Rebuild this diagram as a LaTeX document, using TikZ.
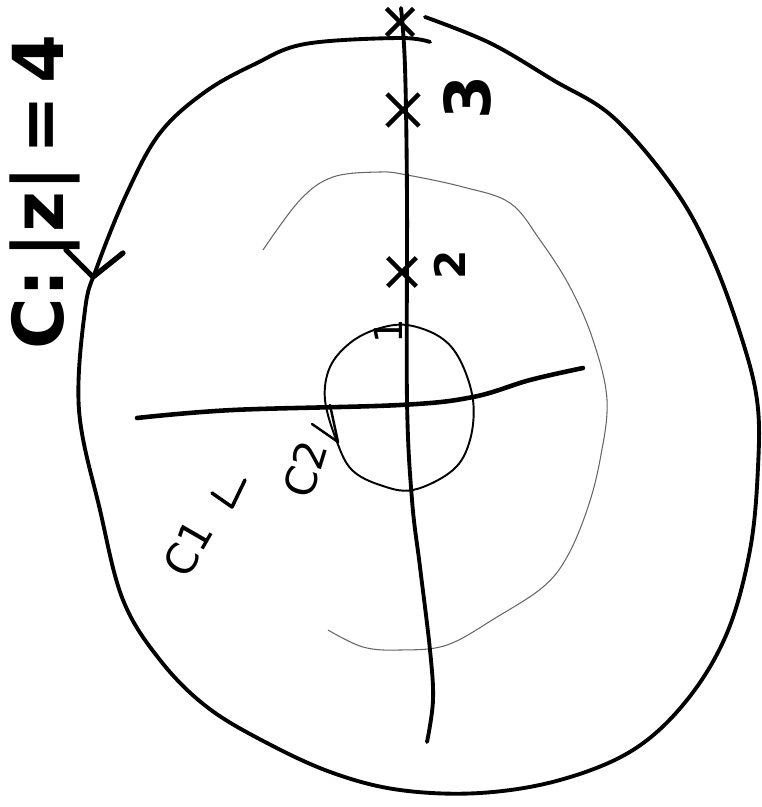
\documentclass[tikz,border=0pt]{standalone}
\usepackage{fontspec}
\setmainfont{DejaVu Sans}
\usetikzlibrary{shapes.misc}

\begin{document}
\begin{tikzpicture}[
    x=0.02cm, y=-0.02cm,
    bigcurve/.style={line width=2.2pt, line cap=round, line join=round},
    midcurve/.style={line width=0.6pt, draw=black!60},
    smallcurve/.style={line width=1.1pt},
    axisline/.style={line width=2.2pt, line cap=round},
    xmark/.style={cross out, draw, line width=2.6pt, inner sep=0pt},
    tickline/.style={line width=2pt, line cap=round, line join=round},
    sketchlabel/.style={inner sep=0pt, rotate=90}
    ]
    \useasboundingbox (0,0) rectangle (761,807);

    %Outer contour
    \draw[bigcurve] plot[smooth, tension=0.6] coordinates {
        (425,17) (490,43) (553,80) (613,117) (673,187) (710,253) (740,333)
        (757,400) (758,467) (750,550) (727,633) (687,700) (633,750) (560,780)
        (480,793) (400,790) (333,773) (267,743) (207,707) (160,660) (123,600)
        (100,510) (79,410) (85,310) (97,267) (127,193) (160,133) (205,92)
        (255,64) (305,44) (398,38) (430,42)};

    %Middle contour (left side left open)
    \draw[midcurve] plot[smooth, tension=0.6] coordinates {
        (263,250) (300,200) (333,177) (380,172) (407,175) (463,187) (510,203)
        (540,240) (570,287) (593,340) (607,400) (600,460) (587,510) (567,557)
        (543,587) (497,617) (447,645) (400,650) (363,647) (328,630)};

    %Inner contour
    \draw[smallcurve] plot[smooth cycle, tension=0.6] coordinates {
        (407,325) (440,337) (460,360) (473,400) (470,440) (453,470) (413,490)
        (380,485) (352,470) (337,442) (325,400) (330,367) (350,343) (377,329)};

    %Axes
    \draw[axisline] plot[smooth, tension=0.6] coordinates {
        (401,8) (405,67) (407,200) (407,400) (412,500) (420,567) (430,650)
        (433,700) (427,742)};
    \draw[axisline, line width=2.6pt] plot[smooth, tension=0.6] coordinates {
        (137,418) (233,410) (400,405) (473,397) (530,380) (583,368)};

    %Marks on the axis
    \node[xmark, minimum size=0.45cm]   (mark_top)      at (400,22)  {};
    \node[xmark, minimum size=0.55cm]   (mark_three)    at (403,110) {};
    \node[xmark, minimum size=0.48cm]   (mark_two)      at (402,272) {};

    %Labels
    \node[sketchlabel, font=\bfseries\fontsize{40}{40}\selectfont] (outer_label) at (45,192) {C:\,|z|\,=\,4};
    \node[sketchlabel, font=\bfseries\fontsize{36}{36}\selectfont] (label_three) at (467,97)  {3};
    \node[sketchlabel, font=\bfseries\fontsize{24}{24}\selectfont] (label_two)   at (450,265) {2};
    \node[sketchlabel, font=\fontsize{22}{22}\selectfont]          (label_one)   at (388,331) {1};
    \node[sketchlabel, rotate=-17, font=\fontsize{24}{24}\selectfont] (label_c_two) at (305,469) {C2};
    \node[sketchlabel, rotate=-30, font=\fontsize{24}{24}\selectfont] (label_c_one) at (188,548) {C1};

    %Ticks pointing at the contours
    \coordinate (outer_tick)    at (93,277);
    \coordinate (outer_arm_a)   at (66,250);
    \coordinate (outer_arm_b)   at (123,253);
    \coordinate (mid_tick)      at (232,507);
    \coordinate (mid_arm_a)     at (212,493);
    \coordinate (mid_arm_b)     at (245,480);
    \coordinate (inner_tick)    at (338,442);
    \coordinate (inner_arm_a)   at (312,424);
    \coordinate (inner_arm_b)   at (330,405);

    \draw[tickline, line width=3pt] (outer_arm_a) -- (outer_tick) -- (outer_arm_b);
    \draw[tickline] (mid_arm_a) -- (mid_tick) -- (mid_arm_b);
    \draw[tickline, line width=1.4pt] (inner_arm_a) -- (inner_tick) -- (inner_arm_b);

\end{tikzpicture}
\end{document}
